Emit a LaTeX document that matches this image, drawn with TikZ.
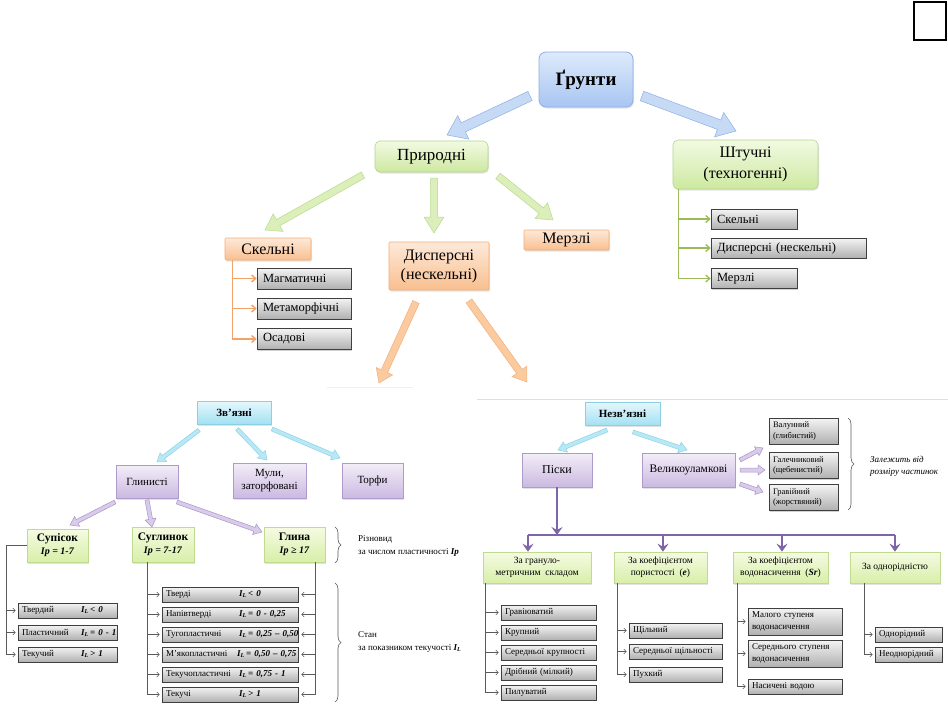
\documentclass[tikz,border=0pt]{standalone}
\usepackage{fontspec}
\setmainfont{Liberation Serif}
\usetikzlibrary{calc,arrows.meta,shadows,decorations.pathreplacing}
\definecolor{bluT}{HTML}{DDEAFB}\definecolor{bluB}{HTML}{A8C5F1}\definecolor{bluD}{HTML}{8DB0E3}
\definecolor{grnT}{HTML}{F2FAE3}\definecolor{grnB}{HTML}{CDE9A0}\definecolor{grnD}{HTML}{B4D68A}
\definecolor{orT}{HTML}{FDE9D9}\definecolor{orB}{HTML}{F9BF8F}\definecolor{orD}{HTML}{F2AE78}
\definecolor{cyT}{HTML}{E6F7FC}\definecolor{cyB}{HTML}{A3E1F2}\definecolor{cyD}{HTML}{8CCFE3}
\definecolor{puT}{HTML}{F3EEF8}\definecolor{puB}{HTML}{CBB9E1}\definecolor{puD}{HTML}{AE9BCB}
\definecolor{lgT}{HTML}{F5FBE3}\definecolor{lgB}{HTML}{D8EFA8}\definecolor{lgD}{HTML}{C0DB90}
\definecolor{gyT}{HTML}{F4F4F4}\definecolor{gyB}{HTML}{B0B0B0}\definecolor{gyD}{HTML}{3F3F3F}
\definecolor{abF}{HTML}{C6DAF6}\definecolor{abD}{HTML}{8DB0E3}
\definecolor{agF}{HTML}{DCEFBA}\definecolor{agD}{HTML}{B8D98F}
\definecolor{aoF}{HTML}{FBCA9F}\definecolor{aoD}{HTML}{F2B07F}
\definecolor{acF}{HTML}{B8E8F5}\definecolor{acD}{HTML}{8ED3E6}
\definecolor{apF}{HTML}{D9CCEA}\definecolor{apD}{HTML}{A994CA}
\definecolor{orL}{HTML}{F3A268}\definecolor{grL}{HTML}{9BBB59}\definecolor{gyL}{HTML}{5A5A5A}\definecolor{puL}{HTML}{7E64A8}
\newcommand\ilv[1]{\mbox{\textbf{\textit{I\textsubscript{L}}}\textbf{\textit{\,#1}}}}
\newcommand\blockarr[6]{%
  \path[#1] let \p1=(#2), \p2=(#3), \n1={atan2(\y2-\y1,\x2-\x1)}, \p3=($(\p2)!#6!(\p1)$) in
   ($(\p1)+(\n1+90:#4)$) -- ($(\p3)+(\n1+90:#4)$) -- ($(\p3)+(\n1+90:#5)$) -- (\p2)
   -- ($(\p3)+(\n1-90:#5)$) -- ($(\p3)+(\n1-90:#4)$) -- ($(\p1)+(\n1-90:#4)$) -- cycle;}
\begin{document}
\begin{tikzpicture}[x=1pt,y=-1pt,
 base/.style={align=center, inner sep=1pt, text=black},
 shad/.style={drop shadow={shadow xshift=1pt,shadow yshift=-1.5pt,opacity=0.22}},
 bluebox/.style={base, draw=bluD, top color=bluT, bottom color=bluB, rounded corners=7pt, line width=0.8pt, shad},
 grnbox/.style={base, draw=grnD, top color=grnT, bottom color=grnB, rounded corners=5pt, line width=0.6pt, shad},
 orbox/.style={base, draw=orD, top color=orT, bottom color=orB, rounded corners=1pt, line width=0.6pt, shad},
 cybox/.style={base, draw=cyD, top color=cyT, bottom color=cyB, line width=0.6pt, shad},
 pubox/.style={base, draw=puD, top color=puT, bottom color=puB, line width=0.6pt, shad},
 lgbox/.style={base, draw=lgD, top color=lgT, bottom color=lgB, line width=0.6pt, shad},
 graybox/.style={base, draw=gyD, top color=gyT, bottom color=gyB, line width=0.6pt,
   drop shadow={shadow xshift=1pt,shadow yshift=-1pt,opacity=0.35}},
 item/.style={graybox, align=left, text width=#1, inner xsep=4pt, inner ysep=0pt, minimum height=15pt,
   font=\fontsize{9}{12}\selectfont},
 topitem/.style={graybox, align=left, text width=#1, inner xsep=6pt, inner ysep=0pt, minimum height=20pt,
   font=\fontsize{12.5}{14}\selectfont},
 tipS/.style={-{Straight Barb[length=2.5pt,width=5pt]}, shorten >=2pt},
 gline/.style={draw=gyL, line width=0.6pt},
 orline/.style={draw=orL, line width=1.5pt},
 grline/.style={draw=grL, line width=1.3pt},
 pline/.style={draw=puL, line width=2.5pt},
 ptip/.style={-{Stealth[length=8pt,width=11pt,inset=3pt]}},
 bigtip/.style={-{Straight Barb[length=4pt,width=7pt]}},
 bablue/.style={fill=abF, draw=abD, line width=0.5pt},
 bagrn/.style={fill=agF, draw=agD, line width=0.5pt},
 baor/.style={fill=aoF, draw=aoD, line width=0.5pt},
 bacy/.style={fill=acF, draw=acD, line width=0.5pt},
 bapu/.style={fill=apF, draw=apD, line width=0.5pt},
 brc/.style={draw=gyL, line width=0.6pt, decorate, decoration={brace, amplitude=6pt}},
 note/.style={anchor=west, align=left, inner sep=0pt, font=\fontsize{9}{13}\selectfont}
]
\useasboundingbox[fill=white] (0,0) rectangle (948,707);

% faint separator lines
\draw[gray!25, line width=0.8pt] (477,399) -- (948,399);
\draw[gray!12, line width=0.8pt] (327,387) -- (413,387);

% top right square
\node[draw=black, line width=1.5pt, minimum width=32pt, minimum height=38pt, inner sep=0pt] (sq) at (930,21) {};

% ---------- top part ----------
\node[bluebox, minimum width=94pt, minimum height=55pt, font=\bfseries\fontsize{19}{22}\selectfont] (grunt) at (586,79.5) {Ґрунти};
\node[grnbox, minimum width=113pt, minimum height=31pt, font=\fontsize{17}{20}\selectfont] (prir) at (431.5,156.5) {Природні};
\node[grnbox, minimum width=145pt, minimum height=49pt, font=\fontsize{16}{21}\selectfont] (shtuch) at (745.5,164.5) {Штучні\\(техногенні)};
\node[orbox, minimum width=86pt, minimum height=22pt, font=\fontsize{16}{18}\selectfont] (skel) at (268,249) {Скельні};
\node[orbox, minimum width=100pt, minimum height=48pt, font=\fontsize{16}{19}\selectfont] (disp) at (439,266) {Дисперсні\\(нескельні)};
\node[orbox, minimum width=85pt, minimum height=20pt, font=\fontsize{16}{18}\selectfont] (merz) at (566.5,240) {Мерзлі};

\node[topitem=82pt, minimum height=21pt] (magm) at (304,278.5) {Магматичні};
\node[topitem=82pt, minimum height=21pt] (meta) at (304,308.5) {Метаморфічні};
\node[topitem=82pt, minimum height=21pt] (osad) at (304,339) {Осадові};

\node[topitem=74pt] (tskel) at (754,219) {Скельні};
\node[topitem=143pt] (tdisp) at (788.5,248) {Дисперсні (нескельні)};
\node[topitem=74pt] (tmerz) at (754,278.5) {Мерзлі};

% block arrows top
\coordinate (a1t) at (530,96);  \coordinate (a1h) at (447,135);
\coordinate (a2t) at (642,96);  \coordinate (a2h) at (736,131);
\coordinate (b1t) at (363,175); \coordinate (b1h) at (265,230);
\coordinate (b2t) at (434,178); \coordinate (b2h) at (434,233);
\coordinate (b3t) at (498,176); \coordinate (b3h) at (553,220);
\coordinate (c1t) at (416,302); \coordinate (c1h) at (379,383);
\coordinate (c2t) at (469,301); \coordinate (c2h) at (527,382);
\blockarr{bablue}{a1t}{a1h}{5pt}{13pt}{18pt}
\blockarr{bablue}{a2t}{a2h}{5pt}{13pt}{18pt}
\blockarr{bagrn}{b1t}{b1h}{3.5pt}{10pt}{15pt}
\blockarr{bagrn}{b2t}{b2h}{3.5pt}{10pt}{16pt}
\blockarr{bagrn}{b3t}{b3h}{3.5pt}{10pt}{15pt}
\blockarr{baor}{c1t}{c1h}{3.5pt}{9pt}{13pt}
\blockarr{baor}{c2t}{c2h}{3.5pt}{9pt}{13pt}

% connectors top
\draw[orline, bigtip] ($(skel.south west)+(8,0)$) coordinate (skv) |- (osad.west);
\draw[orline, bigtip] (skv |- magm.west) -- (magm.west);
\draw[orline, bigtip] (skv |- meta.west) -- (meta.west);
\draw[grline, bigtip] ($(shtuch.south west)+(6,0)$) coordinate (shv) |- (tmerz.west);
\draw[grline, bigtip] (shv |- tskel.west) -- (tskel.west);
\draw[grline, bigtip] (shv |- tdisp.west) -- (tdisp.west);

% ---------- bottom left ----------
\node[cybox, minimum width=74pt, minimum height=23pt, font=\bfseries\fontsize{11}{13}\selectfont] (zv) at (234,412.5) {Зв’язні};
\node[pubox, minimum width=62pt, minimum height=33pt, font=\fontsize{11}{13}\selectfont] (glin) at (147,481.5) {Глинисті};
\node[pubox, minimum width=73pt, minimum height=35pt, font=\fontsize{11}{13}\selectfont] (muly) at (269.5,480.5) {Мули,\\заторфовані};
\node[pubox, minimum width=61pt, minimum height=35pt, font=\fontsize{11}{13}\selectfont] (torf) at (372.5,480.5) {Торфи};
\node[lgbox, minimum width=61pt, minimum height=33pt, font=\fontsize{10}{13}\selectfont] (sup) at (57.5,545.5) {{\bfseries\fontsize{11.5}{13}\selectfont Супісок}\\\textbf{\textit{Ip = 1-7}}};
\node[lgbox, minimum width=62pt, minimum height=35pt, font=\fontsize{10}{13}\selectfont] (sug) at (163,544.5) {{\bfseries\fontsize{11.5}{13}\selectfont Суглинок}\\\textbf{\textit{Ip = 7-17}}};
\node[lgbox, minimum width=61pt, minimum height=35pt, font=\fontsize{10}{13}\selectfont] (glina) at (294.5,544.5) {{\bfseries\fontsize{11.5}{13}\selectfont Глина}\\\textbf{\textit{Ip ≥ 17}}};

\coordinate (d1t) at (199,430); \coordinate (d1h) at (157,462);
\coordinate (d2t) at (237,429); \coordinate (d2h) at (267,460);
\coordinate (d3t) at (272,429); \coordinate (d3h) at (340,458);
\coordinate (e1t) at (115,502); \coordinate (e1h) at (70,525);
\coordinate (e2t) at (147,500); \coordinate (e2h) at (152,527);
\coordinate (e3t) at (177,502); \coordinate (e3h) at (262,532);
\blockarr{bacy}{d1t}{d1h}{2pt}{5.5pt}{8pt}
\blockarr{bacy}{d2t}{d2h}{2pt}{5.5pt}{8pt}
\blockarr{bacy}{d3t}{d3h}{2pt}{5.5pt}{8pt}
\blockarr{bapu}{e1t}{e1h}{2pt}{5.5pt}{8pt}
\blockarr{bapu}{e2t}{e2h}{2pt}{5.5pt}{8pt}
\blockarr{bapu}{e3t}{e3h}{2pt}{5.5pt}{8pt}

\node[item=91pt] (sup1) at (67.5,610.5) {\makebox[59pt][l]{Твердий}\ilv{< 0}};
\node[item=91pt] (sup2) at (67.5,632.5) {\makebox[59pt][l]{Пластичний}\ilv{= 0 - 1}};
\node[item=91pt] (sup3) at (67.5,654.5) {\makebox[59pt][l]{Текучий}\ilv{> 1}};

\node[item=128pt] (sug1) at (230,594.5) {\makebox[73pt][l]{Тверді}\ilv{< 0}};
\node[item=128pt] (sug2) at (230,614.5) {\makebox[73pt][l]{Напівтверді}\ilv{= 0 - 0,25}};
\node[item=128pt] (sug3) at (230,634.5) {\makebox[73pt][l]{Тугопластичні}\ilv{= 0,25 – 0,50}};
\node[item=128pt] (sug4) at (230,654.5) {\makebox[71pt][l]{М’якопластичні}\ilv{= 0,50 – 0,75}};
\node[item=128pt] (sug5) at (230,674.5) {\makebox[73pt][l]{Текучопластичні}\ilv{= 0,75 - 1}};
\node[item=128pt] (sug6) at (230,694.5) {\makebox[73pt][l]{Текучі}\ilv{> 1}};

\draw[gline, tipS] (sup.west) -- ++(-20,0) coordinate (supv) |- (sup3.west);
\draw[gline, tipS] (supv |- sup1.west) -- (sup1.west);
\draw[gline, tipS] (supv |- sup2.west) -- (sup2.west);
\draw[gline, tipS] ($(sug.south west)+(16,0)$) coordinate (sugv) |- (sug6.west);
\foreach \k in {1,...,5} \draw[gline, tipS] (sugv |- sug\k.west) -- (sug\k.west);
\draw[gline, tipS, shorten >=3pt] ($(glina.south east)+(-10,0)$) coordinate (glv) |- (sug6.east);
\foreach \k in {1,...,5} \draw[gline, tipS, shorten >=3pt] (glv |- sug\k.east) -- (sug\k.east);

\draw[brc] (335,527) -- (335,563);
\node[note] (razn) at (358,546) {Різновид\\за числом пластичності \textbf{\textit{Ip}}};
\draw[brc] (335,583) -- (335,702);
\node[note] (stan) at (358,642) {Стан\\за показником текучості \textbf{\textit{I\textsubscript{L}}}};

% ---------- bottom right ----------
\node[cybox, minimum width=75pt, minimum height=23pt, font=\bfseries\fontsize{11}{13}\selectfont] (nezv) at (622.5,413.5) {Незв’язні};
\node[pubox, minimum width=70pt, minimum height=34pt, font=\fontsize{12}{14}\selectfont] (pisk) at (557,470) {Піски};
\node[pubox, minimum width=93pt, minimum height=34pt, font=\fontsize{11.5}{14}\selectfont] (velu) at (688.5,470) {Великоуламкові};
\node[graybox, align=left, text width=61pt, inner xsep=4pt, inner ysep=0pt, minimum height=26pt, font=\fontsize{8.5}{10.5}\selectfont] (valu) at (803.5,431) {Валунний\\(глибистий)};
\node[graybox, align=left, text width=61pt, inner xsep=4pt, inner ysep=0pt, minimum height=26pt, font=\fontsize{8.5}{10.5}\selectfont] (gale) at (803.5,465.5) {Галечниковий\\(щебенистий)};
\node[graybox, align=left, text width=61pt, inner xsep=4pt, inner ysep=0pt, minimum height=26pt, font=\fontsize{8.5}{10.5}\selectfont] (grav) at (803.5,497.5) {Гравійний\\(жорствяний)};
\draw[brc] (848,418) -- (848,510);
\node[note, font=\itshape\fontsize{9}{12}\selectfont] (zal) at (870,466) {Залежить від\\розміру частинок};

\coordinate (f1t) at (607,430); \coordinate (f1h) at (558,450);
\coordinate (f2t) at (633,432); \coordinate (f2h) at (687,450);
\coordinate (h1t) at (740,460); \coordinate (h1h) at (763,448);
\coordinate (h2t) at (740,470); \coordinate (h2h) at (765,470);
\coordinate (h3t) at (740,484); \coordinate (h3h) at (763,492);
\blockarr{bacy}{f1t}{f1h}{2pt}{5.5pt}{8pt}
\blockarr{bacy}{f2t}{f2h}{2pt}{5.5pt}{8pt}
\blockarr{bapu}{h1t}{h1h}{2pt}{5pt}{7pt}
\blockarr{bapu}{h2t}{h2h}{2pt}{5pt}{7pt}
\blockarr{bapu}{h3t}{h3h}{2pt}{5pt}{7pt}

\node[lgbox, minimum width=108pt, minimum height=31pt, font=\fontsize{9.5}{12}\selectfont] (g1) at (537,567.5) {За грануло-\\метричним\ \ складом};
\node[lgbox, minimum width=93pt, minimum height=31pt, font=\fontsize{9.5}{12}\selectfont] (g2) at (660.5,567.5) {За коефіцієнтом\\пористості \ (\textbf{\textit{e}})};
\node[lgbox, minimum width=95pt, minimum height=31pt, font=\fontsize{9.5}{12}\selectfont] (g3) at (780.5,567.5) {За коефіцієнтом\\водонасичення \ (\textbf{\textit{Sr}})};
\node[lgbox, minimum width=90pt, minimum height=31pt, font=\fontsize{9.5}{12}\selectfont] (g4) at (895,567.5) {За однорідністю};

\coordinate (barL) at (528,535);
\draw[pline, ptip] (pisk.south) -- (pisk.south |- barL);
\draw[pline] (barL) -- (g4.north |- barL);
\draw[pline, ptip] (barL) -- (barL |- g1.north);
\draw[pline, ptip] ($(g2.north |- barL)+(2.5,0)$) -- ($(g2.north)+(2.5,0)$);
\draw[pline, ptip] ($(g3.north |- barL)+(1.5,0)$) -- ($(g3.north)+(1.5,0)$);
\draw[pline, ptip] (g4.north |- barL) -- (g4.north);

\node[item=87pt] (g1i1) at (548.5,612.5) {Гравіюватий};
\node[item=87pt] (g1i2) at (548.5,632.5) {Крупний};
\node[item=87pt] (g1i3) at (548.5,652.5) {Середньої крупності};
\node[item=87pt] (g1i4) at (548.5,672.5) {Дрібний (мілкий)};
\node[item=87pt] (g1i5) at (548.5,692.5) {Пилуватий};
\draw[gline, tipS] ($(g1.south west)+(3,0)$) coordinate (g1v) |- (g1i5.west);
\foreach \k in {1,...,4} \draw[gline, tipS] (g1v |- g1i\k.west) -- (g1i\k.west);

\node[item=85pt] (g2i1) at (675.5,630.5) {Щільний};
\node[item=85pt] (g2i2) at (675.5,651.5) {Середньої щільності};
\node[item=85pt] (g2i3) at (675.5,674.5) {Пухкий};
\draw[gline, tipS] ($(g2.south west)+(4,0)$) coordinate (g2v) |- (g2i3.west);
\foreach \k in {1,2} \draw[gline, tipS] (g2v |- g2i\k.west) -- (g2i\k.west);

\node[item=86pt, minimum height=27pt] (g3i1) at (795,621.5) {Малого ступеня\\водонасичення};
\node[item=86pt, minimum height=27pt] (g3i2) at (795,653.5) {Середнього ступеня\\водонасичення};
\node[item=86pt] (g3i3) at (795,686.5) {Насичені водою};
\draw[gline, tipS] ($(g3.south west)+(5,0)$) coordinate (g3v) |- (g3i3.west);
\foreach \k in {1,2} \draw[gline, tipS] (g3v |- g3i\k.west) -- (g3i\k.west);

\node[item=59pt] (g4i1) at (908.5,634.5) {Однорідний};
\node[item=59pt] (g4i2) at (908.5,654.5) {Неоднорідний};
\draw[gline, tipS] ($(g4.south west)+(15,0)$) coordinate (g4v) |- (g4i2.west);
\draw[gline, tipS] (g4v |- g4i1.west) -- (g4i1.west);
\end{tikzpicture}
\end{document}
